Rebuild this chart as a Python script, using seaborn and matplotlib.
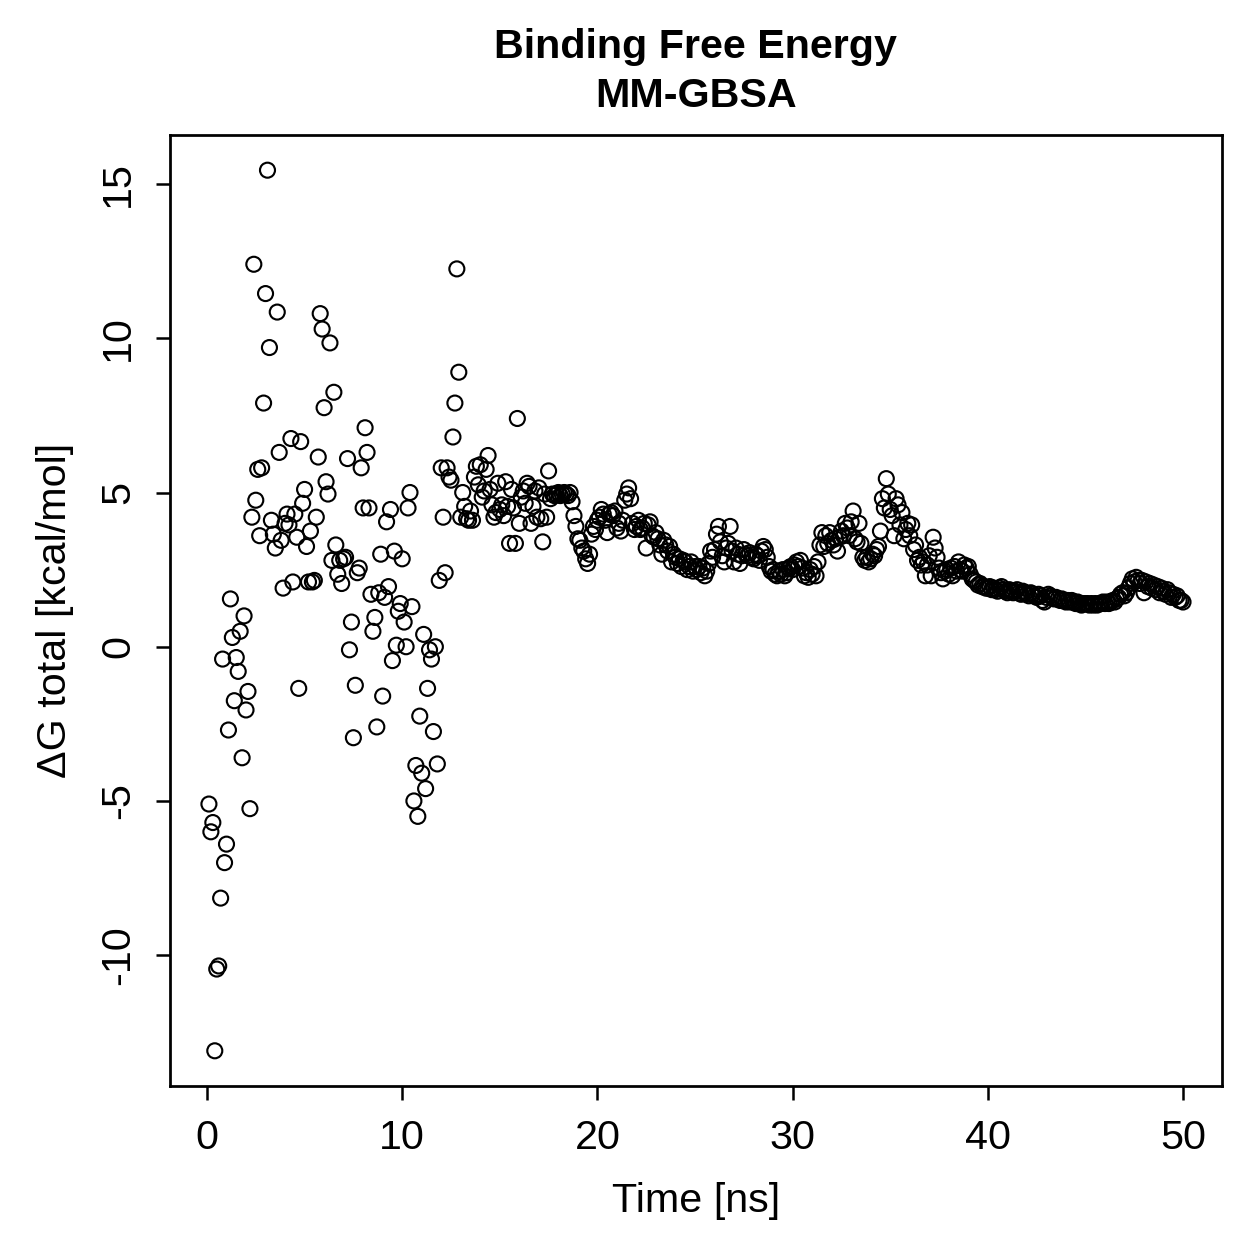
import matplotlib
matplotlib.use("Agg")
import matplotlib.pyplot as plt
import numpy as np
import seaborn as sns

sns.set_style("ticks")
plt.rcParams["font.family"] = ["Liberation Sans", "DejaVu Sans"]
plt.rcParams["font.size"] = 16.5
for key in ["text.color", "axes.labelcolor", "axes.edgecolor",
            "xtick.color", "ytick.color"]:
    plt.rcParams[key] = "black"

# time axis: one frame every 0.1 ns
time_ns = np.arange(1, 501) / 10.0

# binding free energy per frame (kcal/mol)
dg_total = [
    # 0.1 - 5.0 ns
    -5.1, -6.0, -5.7, -13.1, -10.45, -10.35, -8.15, -0.4, -7.0, -6.4,
    -2.7, 1.55, 0.3, -1.75, -0.35, -0.8, 0.5, -3.6, 1.0, -2.05,
    -1.45, -5.25, 4.2, 12.4, 4.75, 5.75, 3.6, 5.8, 7.9, 11.45,
    15.45, 9.7, 4.1, 3.65, 3.2, 10.85, 6.3, 3.45, 1.9, 4.0,
    4.3, 3.95, 6.75, 2.1, 4.3, 3.55, -1.35, 6.65, 4.65, 5.1,
    # 5.1 - 10.0 ns
    3.25, 2.1, 3.75, 2.1, 2.15, 4.2, 6.15, 10.8, 10.3, 7.75,
    5.35, 4.95, 9.85, 2.8, 8.25, 3.3, 2.35, 2.8, 2.05, 2.85,
    2.9, 6.1, -0.1, 0.8, -2.95, -1.25, 2.4, 2.55, 5.8, 4.5,
    7.1, 6.3, 4.5, 1.7, 0.5, 0.95, -2.6, 1.75, 3.0, -1.6,
    1.6, 4.05, 1.95, 4.45, -0.45, 3.1, 0.05, 1.15, 1.4, 2.85,
    # 10.1 - 15.0 ns
    0.8, 0.0, 4.5, 5.0, 1.3, -5.0, -3.85, -5.5, -2.25, -4.1,
    0.4, -4.6, -1.35, -0.1, -0.4, -2.75, 0.0, -3.8, 2.15, 5.8,
    4.2, 2.4, 5.8, 5.5, 5.4, 6.8, 7.9, 12.25, 8.9, 4.2,
    5.0, 4.55, 4.15, 4.1, 4.4, 4.1, 5.5, 5.85, 5.25, 5.9,
    4.85, 5.05, 5.75, 6.2, 5.1, 4.6, 4.2, 4.35, 5.3, 4.45,
    # 15.1 - 20.0 ns
    4.6, 4.25, 5.35, 4.55, 3.35, 5.1, 4.5, 3.35, 7.4, 4.0,
    4.85, 5.05, 4.65, 5.3, 5.2, 4.0, 4.55, 5.05, 4.2, 5.15,
    4.15, 3.4, 4.95, 4.2, 5.7, 4.8, 4.95, 4.9, 4.95, 5.0,
    4.9, 4.95, 5.0, 4.95, 4.9, 5.0, 4.7, 4.25, 3.9, 3.5,
    3.45, 3.2, 3.1, 2.85, 2.7, 3.0, 3.65, 3.9, 3.8, 4.1,
    # 20.1 - 25.0 ns
    4.2, 4.45, 4.3, 4.1, 3.7, 4.3, 4.35, 4.25, 4.4, 3.85,
    4.0, 3.75, 4.1, 4.75, 4.95, 5.15, 4.8, 4.0, 3.8, 3.9,
    4.1, 3.8, 3.85, 4.0, 3.2, 3.95, 4.05, 3.6, 3.55, 3.7,
    3.5, 3.3, 3.0, 3.45, 3.3, 3.1, 3.25, 2.75, 3.0, 2.9,
    2.7, 2.85, 2.6, 2.8, 2.75, 2.5, 2.6, 2.75, 2.45, 2.6,
    # 25.1 - 30.0 ns
    2.5, 2.6, 2.4, 2.55, 2.3, 2.45, 2.7, 3.1, 2.9, 3.15,
    3.65, 3.9, 3.4, 2.95, 2.75, 3.2, 3.35, 3.9, 3.1, 2.75,
    3.2, 3.0, 2.7, 2.95, 3.15, 3.0, 2.95, 3.05, 2.9, 2.85,
    3.0, 2.95, 2.8, 3.1, 3.25, 3.15, 2.9, 2.6, 2.45, 2.5,
    2.35, 2.3, 2.45, 2.35, 2.5, 2.3, 2.4, 2.55, 2.6, 2.5,
    # 30.1 - 35.0 ns
    2.65, 2.75, 2.6, 2.8, 2.55, 2.3, 2.4, 2.25, 2.5, 2.35,
    2.6, 2.3, 2.75, 3.3, 3.7, 3.25, 3.6, 3.35, 3.7, 3.45,
    3.3, 3.5, 3.1, 3.55, 3.75, 3.6, 4.0, 3.85, 3.6, 4.05,
    4.4, 3.5, 3.4, 4.0, 3.35, 2.9, 2.8, 2.9, 2.75, 2.85,
    3.0, 2.95, 3.15, 3.25, 3.75, 4.8, 4.5, 5.45, 4.95, 4.45,
    # 35.1 - 40.0 ns
    4.25, 3.6, 4.8, 4.6, 3.95, 4.35, 3.5, 3.8, 4.0, 3.6,
    3.95, 3.15, 3.3, 2.8, 2.9, 2.65, 2.75, 2.3, 2.65, 2.95,
    2.3, 3.55, 3.2, 2.9, 2.55, 2.4, 2.2, 2.45, 2.5, 2.35,
    2.55, 2.3, 2.6, 2.45, 2.75, 2.5, 2.45, 2.65, 2.55, 2.6,
    2.35, 2.2, 2.15, 2.1, 2.0, 2.05, 1.95, 1.95, 1.9, 1.9,
    # 40.1 - 45.0 ns
    1.95, 1.85, 1.9, 1.85, 1.8, 1.9, 1.95, 1.85, 1.8, 1.75,
    1.85, 1.8, 1.75, 1.8, 1.85, 1.75, 1.7, 1.8, 1.75, 1.7,
    1.65, 1.75, 1.7, 1.65, 1.6, 1.7, 1.65, 1.5, 1.45, 1.6,
    1.7, 1.65, 1.6, 1.55, 1.6, 1.55, 1.5, 1.55, 1.5, 1.45,
    1.5, 1.45, 1.5, 1.45, 1.4, 1.45, 1.4, 1.35, 1.4, 1.4,
    # 45.1 - 50.0 ns
    1.4, 1.35, 1.4, 1.35, 1.4, 1.35, 1.4, 1.4, 1.45, 1.4,
    1.45, 1.4, 1.45, 1.5, 1.45, 1.55, 1.6, 1.7, 1.75, 1.65,
    1.75, 1.9, 2.05, 2.2, 2.1, 2.25, 2.15, 2.05, 2.15, 1.75,
    2.1, 1.95, 2.05, 1.9, 2.0, 1.85, 1.95, 1.75, 1.9, 1.8,
    1.7, 1.85, 1.75, 1.6, 1.7, 1.6, 1.65, 1.5, 1.5, 1.45,
]

x_ticks = [0, 10, 20, 30, 40, 50]
y_ticks = [-10, -5, 0, 5, 10, 15]

fig = plt.figure(figsize=(1259 / 180, 1259 / 180), dpi=180)
ax = fig.add_axes([0.135, 0.1374, 0.8356, 0.7554])

sns.scatterplot(x=time_ns, y=dg_total, ax=ax, marker="o", s=36,
                facecolors="none", edgecolor="black", linewidth=0.85)

# R-style 4% padding around the data range
t = np.asarray(time_ns)
g = np.asarray(dg_total)
ax.set_xlim(t.min() - 0.04 * np.ptp(t), t.max() + 0.04 * np.ptp(t))
ax.set_ylim(g.min() - 0.04 * np.ptp(g), g.max() + 0.04 * np.ptp(g))

ax.set_xticks(x_ticks)
ax.set_yticks(y_ticks)
ax.set_yticklabels([str(v) for v in y_ticks], rotation=90, va="center")
ax.tick_params(direction="out", length=5.6, width=1.0, pad=7.5,
               labelsize=16.5, colors="black")

for side in ["top", "right", "bottom", "left"]:
    ax.spines[side].set_visible(True)
    ax.spines[side].set_linewidth(1.1)
    ax.spines[side].set_color("black")

ax.set_xlabel("Time [ns]", fontsize=16.5, labelpad=10)
ax.set_ylabel("ΔG total [kcal/mol]", fontsize=16.5, labelpad=10)
ax.set_title("Binding Free Energy\nMM-GBSA", fontsize=16.5, fontweight="bold",
             pad=11, linespacing=1.38)

fig.savefig("out.png", dpi=180)
